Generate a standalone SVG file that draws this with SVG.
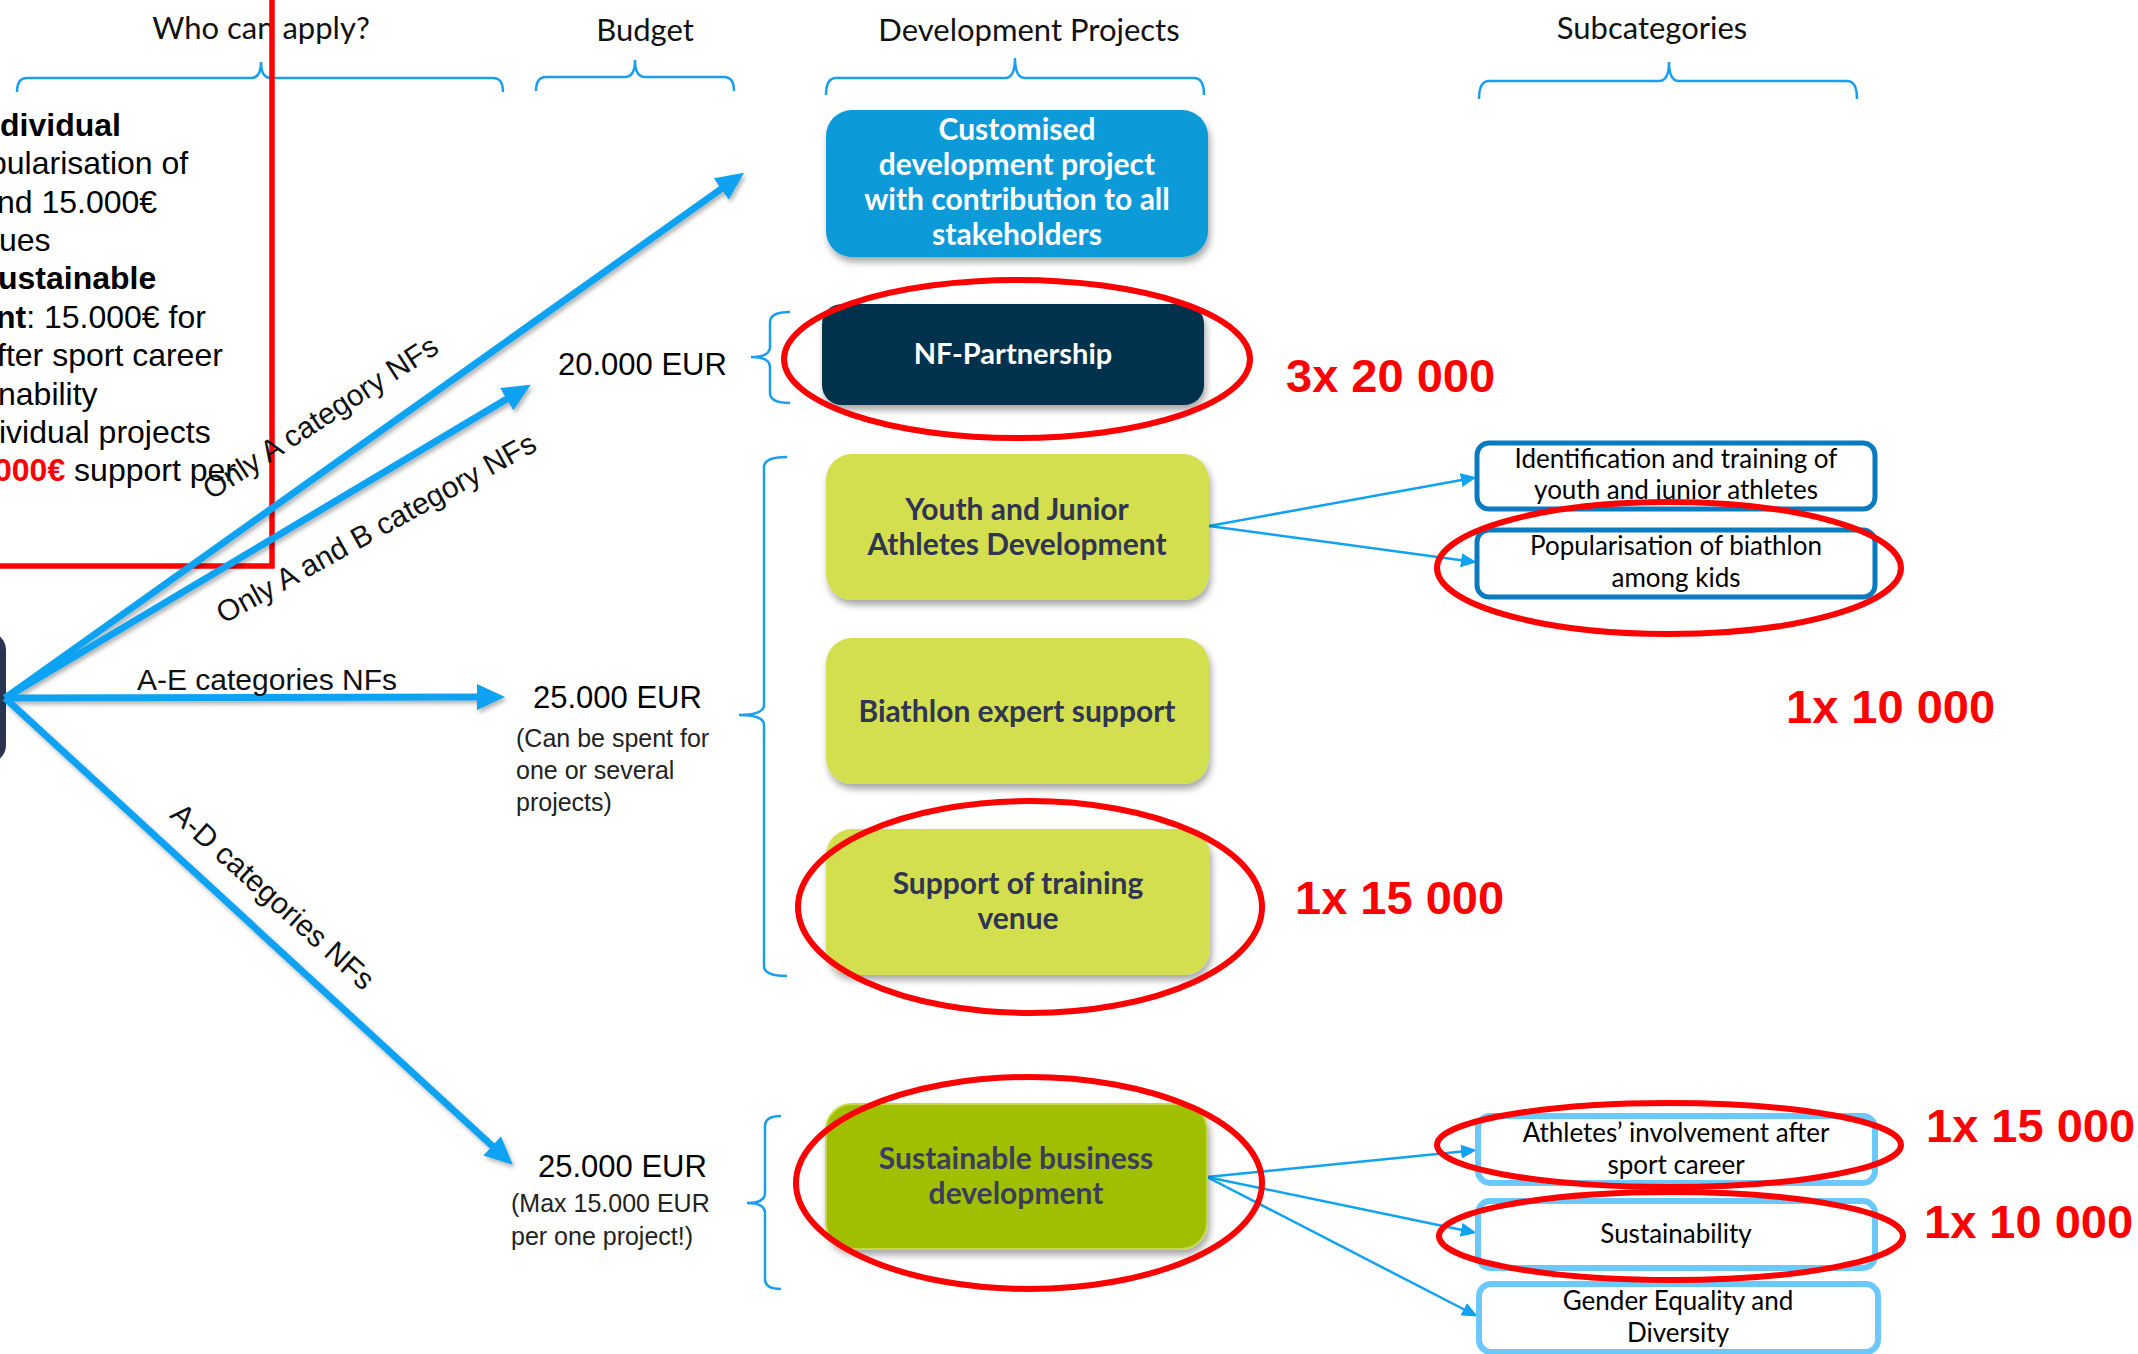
<svg xmlns="http://www.w3.org/2000/svg" width="2138" height="1354" viewBox="0 0 2138 1354">
<style>
.hdr{font-family:Lato,"Liberation Sans",sans-serif;font-weight:400;font-size:31px;fill:#111;text-anchor:middle}
.brk{fill:none;stroke:#1a9ff0;stroke-width:2.5}
.lt{font-family:"Liberation Sans",Arial,sans-serif;font-size:32px;fill:#000}
.b{font-weight:bold}
.lbl{font-family:"Liberation Sans",Arial,sans-serif;font-size:30px;fill:#111}
.bud{font-family:"Liberation Sans",Arial,sans-serif;font-size:31px;fill:#000}
.bsm{font-family:"Liberation Sans",Arial,sans-serif;font-size:25px;fill:#222}
.ptx{font-family:Lato,"Open Sans",sans-serif;font-weight:bold;font-size:30px;text-anchor:middle}
.stx{font-family:Lato,"Open Sans",sans-serif;font-weight:400;font-size:26px;fill:#000;text-anchor:middle}
.thick{stroke:#11a2f2;stroke-width:7;fill:none;marker-end:url(#ah)}
.thin{stroke:#11a2f2;stroke-width:2.5;fill:none;marker-end:url(#ahs)}
.red{fill:none;stroke:#ff0000;stroke-width:6}
.num{font-family:"Liberation Sans",Arial,sans-serif;font-weight:bold;font-size:47px;fill:#ff0000}
.sb1{fill:#fff;stroke:#0b7bc0;stroke-width:5}
.sb2{fill:#fff;stroke:#6ac8fa;stroke-width:6}
</style>
<defs>
<marker id="ah" markerUnits="userSpaceOnUse" viewBox="0 0 28 26" markerWidth="28" markerHeight="26" refX="12" refY="13" orient="auto">
<path d="M0,0 L28,13 L0,26 Z" fill="#11a2f2"/>
</marker>
<marker id="ahs" markerUnits="userSpaceOnUse" viewBox="0 0 16 14" markerWidth="16" markerHeight="14" refX="6" refY="7" orient="auto">
<path d="M0,0 L16,7 L0,14 Z" fill="#11a2f2"/>
</marker>
<filter id="sh" x="-10%" y="-10%" width="125%" height="135%">
<feDropShadow dx="2" dy="5" stdDeviation="3.5" flood-color="#000" flood-opacity="0.35"/>
</filter>
<filter id="ash" x="-10%" y="-10%" width="120%" height="120%">
<feDropShadow dx="2" dy="3" stdDeviation="2" flood-color="#000" flood-opacity="0.3"/>
</filter>
</defs>

<!-- headers -->
<g id="headers">
<text class="hdr" x="261" y="39">Who can apply?</text>
<path class="brk" d="M17,92 Q17,78 27,78 L251,78 Q261,78 261,62 Q261,78 271,78 L493,78 Q503,78 503,92"/>
<text class="hdr" x="645" y="41">Budget</text>
<path class="brk" d="M536,91 Q536,77 546,77 L625,77 Q635,77 635,60 Q635,77 645,77 L724,77 Q734,77 734,91"/>
<text class="hdr" x="1029" y="41">Development Projects</text>
<path class="brk" d="M826,95 Q826,78 836,78 L1005,78 Q1015,78 1015,58 Q1015,78 1025,78 L1194,78 Q1204,78 1204,95"/>
<text class="hdr" x="1652" y="39">Subcategories</text>
<path class="brk" d="M1479,99 Q1479,81 1489,81 L1659,81 Q1669,81 1669,62 Q1669,81 1679,81 L1847,81 Q1857,81 1857,99"/>
</g>

<!-- left cut text -->
<g id="left-text">
<text class="lt b" x="0" y="136">dividual</text>
<text class="lt" x="-11" y="174">pularisation of</text>
<text class="lt" x="-3" y="213">nd 15.000€</text>
<text class="lt" x="-1" y="251">ues</text>
<text class="lt b" x="-2" y="289">ustainable</text>
<text class="lt" x="-4" y="328"><tspan class="b">nt</tspan>: 15.000€ for</text>
<text class="lt" x="-3" y="366">fter sport career</text>
<text class="lt" x="-2" y="405">nability</text>
<text class="lt" x="-1" y="443">ividual projects</text>
<text class="lt" x="-6" y="481"><tspan class="b" fill="#ff0000">000€</tspan> support per</text>
</g>

<g id="red-frame">
<path d="M272,0 L272,566 L0,566" fill="none" stroke="#ff0000" stroke-width="5.5"/>
</g>

<g id="source-node">
<rect x="-200" y="632" width="206" height="131" rx="18" fill="#283450"/>
</g>

<!-- connectors -->
<g id="connectors">
<g filter="url(#ash)">
<path class="thick" d="M5,698 L731,182"/>
<path class="thick" d="M5,698 L517,393"/>
<path class="thick" d="M5,698 L489,697"/>
<path class="thick" d="M5,698 L501,1154"/>
</g>
<path class="thin" d="M1209,526 L1467,479"/>
<path class="thin" d="M1209,526 L1467,561"/>
<path class="thin" d="M1207,1177 L1467,1151"/>
<path class="thin" d="M1207,1177 L1467,1231"/>
<path class="thin" d="M1207,1177 L1469,1312"/>
<text class="lbl" transform="translate(326,426) rotate(-33)" text-anchor="middle">Only A category NFs</text>
<text class="lbl" transform="translate(381,537) rotate(-29)" text-anchor="middle">Only A and B category NFs</text>
<text class="lbl" x="137" y="690">A-E categories NFs</text>
<text class="lbl" transform="translate(266,904) rotate(42)" text-anchor="middle">A-D categories NFs</text>
</g>

<!-- budgets -->
<g id="budget-20k">
<text class="bud" x="558" y="375">20.000 EUR</text>
<path class="brk" d="M790,312 Q770,312 770,322 L770,347 Q770,357 751,357 Q770,357 770,367 L770,393 Q770,403 790,403"/>
</g>
<g id="budget-25k-a">
<text class="bud" x="533" y="708">25.000 EUR</text>
<text class="bsm" x="516" y="747">(Can be spent for</text>
<text class="bsm" x="516" y="779">one or several</text>
<text class="bsm" x="516" y="811">projects)</text>
<path class="brk" d="M787,457 Q764,457 764,467 L764,705 Q764,715 739,715 Q764,715 764,725 L764,966 Q764,976 787,976"/>
</g>
<g id="budget-25k-b">
<text class="bud" x="538" y="1177">25.000 EUR</text>
<text class="bsm" x="511" y="1212">(Max 15.000 EUR</text>
<text class="bsm" x="511" y="1245">per one project!)</text>
<path class="brk" d="M781,1116 Q765,1116 765,1126 L765,1193 Q765,1203 747,1203 Q765,1203 765,1213 L765,1279 Q765,1289 781,1289"/>
</g>

<!-- projects -->
<g id="p-customised">
<rect x="826" y="110" width="382" height="147" rx="26" fill="#0a9ad8" filter="url(#sh)"/>
<text class="ptx" fill="#fff"><tspan x="1017" y="140">Customised</tspan><tspan x="1017" y="175">development project</tspan><tspan x="1017" y="210">with contribution to all</tspan><tspan x="1017" y="245">stakeholders</tspan></text>
</g>
<g id="p-nf">
<rect x="822" y="304" width="382" height="101" rx="20" fill="#04334d" filter="url(#sh)"/>
<text class="ptx" fill="#fff" x="1013" y="364" style="font-size:29px">NF-Partnership</text>
</g>
<g id="p-youth">
<rect x="826" y="454" width="383" height="146" rx="26" fill="#d4df50" filter="url(#sh)"/>
<text class="ptx" fill="#2f3552"><tspan x="1017" y="520">Youth and Junior</tspan><tspan x="1017" y="555">Athletes Development</tspan></text>
</g>
<g id="p-expert">
<rect x="826" y="638" width="383" height="146" rx="26" fill="#d4df50" filter="url(#sh)"/>
<text class="ptx" fill="#2f3552" x="1017" y="722">Biathlon expert support</text>
</g>
<g id="p-venue">
<rect x="826" y="829" width="384" height="146" rx="26" fill="#d4df50" filter="url(#sh)"/>
<text class="ptx" fill="#2f3552"><tspan x="1018" y="894">Support of training</tspan><tspan x="1018" y="929">venue</tspan></text>
</g>
<g id="p-business">
<rect x="826" y="1104" width="381" height="145" rx="26" fill="#a0bf00" stroke="#c9d84a" stroke-width="2" filter="url(#sh)"/>
<text class="ptx" fill="#3a3d5c"><tspan x="1016" y="1169">Sustainable business</tspan><tspan x="1016" y="1204">development</tspan></text>
</g>

<!-- subcategories -->
<g id="s-ident">
<rect class="sb1" x="1477" y="443" width="398" height="66" rx="12"/>
<text class="stx"><tspan x="1676" y="468">Identification and training of</tspan><tspan x="1676" y="499">youth and junior athletes</tspan></text>
</g>
<g id="s-popular">
<rect class="sb1" x="1477" y="530" width="398" height="67" rx="12"/>
<text class="stx"><tspan x="1676" y="555">Popularisation of biathlon</tspan><tspan x="1676" y="587">among kids</tspan></text>
</g>
<g id="s-athletes">
<rect class="sb2" x="1478" y="1116" width="397" height="67" rx="12"/>
<text class="stx"><tspan x="1676" y="1142">Athletes’ involvement after</tspan><tspan x="1676" y="1174">sport career</tspan></text>
</g>
<g id="s-sustain">
<rect class="sb2" x="1478" y="1201" width="397" height="67" rx="12"/>
<text class="stx" x="1676" y="1243">Sustainability</text>
</g>
<g id="s-gender">
<rect class="sb2" x="1479" y="1284" width="399" height="68" rx="12"/>
<text class="stx"><tspan x="1678" y="1310">Gender Equality and</tspan><tspan x="1678" y="1342">Diversity</tspan></text>
</g>

<!-- red highlights -->
<g id="highlights">
<ellipse class="red" cx="1017" cy="359" rx="233" ry="79"/>
<ellipse class="red" cx="1030" cy="907" rx="232" ry="106"/>
<ellipse class="red" cx="1029" cy="1183" rx="233" ry="106"/>
<ellipse class="red" cx="1669" cy="568" rx="232" ry="66"/>
<ellipse class="red" cx="1669" cy="1145" rx="232" ry="42"/>
<ellipse class="red" cx="1671" cy="1236" rx="232" ry="44"/>
<text class="num" x="1286" y="392">3x 20 000</text>
<text class="num" x="1786" y="723">1x 10 000</text>
<text class="num" x="1295" y="914">1x 15 000</text>
<text class="num" x="1926" y="1142">1x 15 000</text>
<text class="num" x="1924" y="1238">1x 10 000</text>
</g>
</svg>
